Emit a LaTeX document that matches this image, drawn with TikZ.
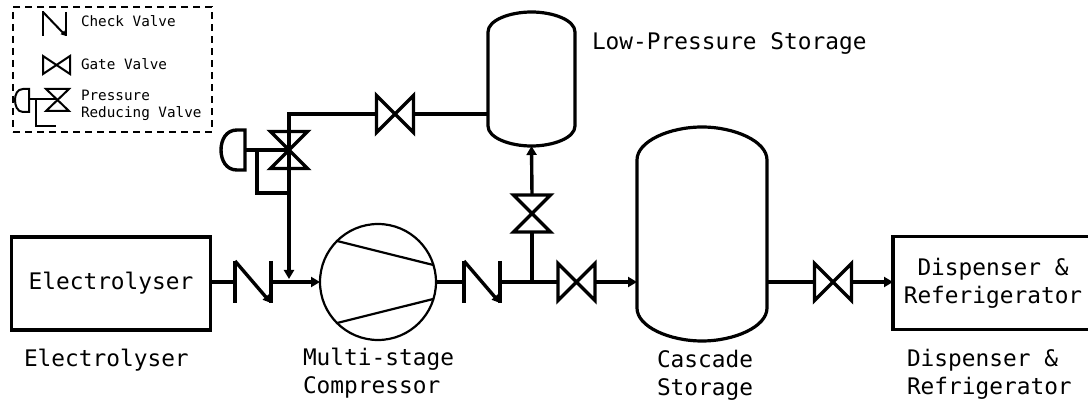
\documentclass[tikz,border=0pt]{standalone}
\usepackage{fontspec}
\setmonofont{DejaVu Sans Mono}
\usetikzlibrary{arrows.meta,calc}
\tikzset{
	pipe/.style={line width=3.4pt},
	flow/.style={pipe, -{Triangle[length=9pt,width=10pt]}},
	vessel/.style={line width=3.2pt},
	caption/.style={font=\ttfamily\fontsize{22.8}{28}\selectfont, anchor=west, align=left, inner sep=0pt},
	keytext/.style={font=\ttfamily\fontsize{14.3}{17}\selectfont, anchor=west, align=left, inner sep=0pt},
	gatevalve/.pic={
		\draw[line width=3.4pt, line join=miter] (-18.5,-18.5) -- (18.5,18.5) -- (18.5,-18.5) -- (-18.5,18.5) -- cycle;
		\coordinate (-in) at (-18.5,0);
		\coordinate (-out) at (18.5,0);
		\coordinate (-mid) at (0,0);
	},
	checkvalve/.pic={
		\draw[line width=3.4pt] (-18,-21) -- (-18,21);
		\draw[line width=3.4pt] (18,-21) -- (18,21);
		\draw[line width=3.4pt, -{Triangle[length=8pt,width=8pt]}] (-18,-21) -- (18,21);
		\coordinate (-in) at (-18,0);
		\coordinate (-out) at (18,0);
	},
}
\begin{document}
\begin{tikzpicture}[x=1pt, y=-1pt, every node/.style={inner sep=0pt, outer sep=0pt}]
	\useasboundingbox (0,0) rectangle (1088,403);
	% equipment
	\node[draw, line width=3.2pt, minimum width=199pt, minimum height=93pt, font=\ttfamily\fontsize{22.8}{28}\selectfont] (elec) at (111,283.5) {Electrolyser};
	\node[draw, line width=2.2pt, circle, minimum size=116pt] (comp) at (378,282) {};
	\node[minimum width=87pt, minimum height=134pt] (lowtank) at (531.5,79) {};
	\node[minimum width=130pt, minimum height=214pt] (casc) at (702,234) {};
	\node[draw, line width=3.2pt, minimum width=200pt, minimum height=93pt, font=\ttfamily\fontsize{22.8}{28}\selectfont, align=center] (disp) at (993,283) {Dispenser \&\\Referigerator};
	\draw[line width=2.2pt] (comp.135) -- (comp.17);
	\draw[line width=2.2pt] (comp.225) -- (comp.343);
	\draw[vessel] (lowtank.west |- 0,32) .. controls (488,20) and (510,12) .. (lowtank.north) .. controls (553,12) and (575,20) .. (lowtank.east |- 0,32) -- (lowtank.east |- 0,126) .. controls (575,138) and (553,146) .. (lowtank.south) .. controls (510,146) and (488,138) .. (lowtank.west |- 0,126) -- cycle;
	\draw[vessel] (casc.west |- 0,160) .. controls (637,141) and (670,127) .. (casc.north) .. controls (734,127) and (767,141) .. (casc.east |- 0,160) -- (casc.east |- 0,308) .. controls (767,327) and (734,341) .. (casc.south) .. controls (670,341) and (637,327) .. (casc.west |- 0,308) -- cycle;
	% valves
	\pic (cvin) at (253,282) {checkvalve};
	\pic (cvout) at (482,282) {checkvalve};
	\pic (gvcasc) at (576.5,282) {gatevalve};
	\pic (gvdisp) at (833,282) {gatevalve};
	\pic (gvlow) at (395,114) {gatevalve};
	\pic[rotate=90] (gvup) at (532,213.5) {gatevalve};
	\pic[rotate=90] (prv) at (289,150) {gatevalve};
	% pipes
	\coordinate (tee) at (532,282);
	\coordinate (drop) at (289,279);
	\coordinate (bend) at (289,114);
	\coordinate (sense) at (289,193);
	\coordinate (head) at (245,150);
	\draw[pipe] (elec.east |- tee) -- (cvin-in);
	\draw[flow] (cvin-out) -- (comp.west);
	\draw[pipe] (comp.east) -- (cvout-in);
	\draw[pipe] (cvout-out) -- (gvcasc-in);
	\draw[flow] (gvcasc-out) -- (casc.west |- tee);
	\draw[pipe] (tee) -- (gvup-in);
	\draw[flow] (gvup-out) -- (lowtank.south);
	\draw[pipe] (casc.east |- tee) -- (gvdisp-in);
	\draw[flow] (gvdisp-out) -- (disp.west |- tee);
	\draw[pipe] (prv-in) -- (bend) -- (gvlow-in);
	\draw[pipe] (gvlow-out) -- (lowtank.west |- gvlow-out);
	\draw[flow] (prv-out) -- (drop);
	% actuator
	\draw[pipe] (head) ++(0,-20) -- ++(0,40) -- ++(-8,0) .. controls (226,170) and (221,160) .. (221,150) .. controls (221,140) and (226,130) .. (237,130) -- cycle;
	\draw[pipe] (head) -- (prv-mid);
	\draw[pipe] (257,150) -- (257,193) -- (sense);
	% legend
	\node[draw, dashed, line width=2pt, dash pattern=on 7pt off 5pt, minimum width=199pt, minimum height=125pt] (key) at (112.5,69.5) {};
	\draw[line width=2pt] (43,11) -- (43,36);
	\draw[line width=2pt] (66,12) -- (66,36);
	\draw[line width=2pt, -{Triangle[length=5pt,width=5pt]}] (43,12) -- (66,36);
	\draw[line width=2pt] (43,56) -- (70,74) -- (70,56) -- (43,74) -- cycle;
	\draw[line width=2pt] (46,89) -- (69,111) -- (46,111) -- (69,89) -- cycle;
	\draw[line width=2pt] (29,89) -- (29,112) -- (23,112) .. controls (17,112) and (15,105) .. (15,100) .. controls (15,95) and (17,89) .. (23,89) -- cycle;
	\draw[line width=2pt] (29,99) -- (57,99);
	\draw[line width=2pt] (36,99) -- (36,126) -- (56,126);
	\node[keytext] (keycheck) at (81,21) {Check Valve};
	\node[keytext] (keygate) at (81,64) {Gate Valve};
	\node[keytext] (keyprv) at (81,105) {Pressure\\Reducing Valve};
	% captions
	\node[caption] (caplow) at (592,43) {Low-Pressure Storage};
	\node[caption] (capelec) at (24,360) {Electrolyser};
	\node[caption] (capcomp) at (303,373) {Multi-stage\\Compressor};
	\node[caption] (capcasc) at (657,375) {Cascade\\Storage};
	\node[caption] (capdisp) at (907,374) {Dispenser \&\\Refrigerator};
\end{tikzpicture}
\end{document}
